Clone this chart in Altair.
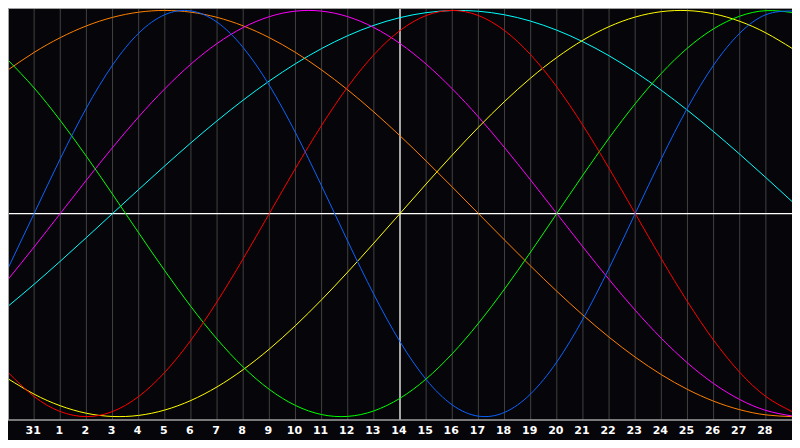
import altair as alt
import pandas as pd

# Day positions across the chart (0 = Jan 30 at the left edge, 30 = Mar 1 at the right edge)
DAYS = [0, 1, 2, 3, 4, 5, 6, 7, 8, 9, 10, 11, 12, 13, 14, 15,
        16, 17, 18, 19, 20, 21, 22, 23, 24, 25, 26, 27, 28, 29, 30]

# Tick positions and their labels (31 Jan, then 1..28 Feb)
TICK_DAYS = [1, 2, 3, 4, 5, 6, 7, 8, 9, 10, 11, 12, 13, 14, 15,
             16, 17, 18, 19, 20, 21, 22, 23, 24, 25, 26, 27, 28, 29]
TICK_LABELS = ["31", "1", "2", "3", "4", "5", "6", "7", "8", "9", "10", "11", "12", "13", "14",
               "15", "16", "17", "18", "19", "20", "21", "22", "23", "24", "25", "26", "27", "28"]

# Curve values, one per day (-1 .. 1)
blue = [-0.2698, 0.0, 0.2698, 0.5196, 0.7308, 0.8879, 0.9791, 0.9977, 0.9423, 0.8170, 0.6311,
        0.3984, 0.1362, -0.1362, -0.3984, -0.6311, -0.8170, -0.9423, -0.9977, -0.9791, -0.8879,
        -0.7308, -0.5196, -0.2698, 0.0, 0.2698, 0.5196, 0.7308, 0.8879, 0.9791, 0.9977]
red = [-0.7818, -0.9010, -0.9749, -1.0, -0.9749, -0.9010, -0.7818, -0.6235, -0.4339, -0.2225, 0.0,
       0.2225, 0.4339, 0.6235, 0.7818, 0.9010, 0.9749, 1.0, 0.9749, 0.9010, 0.7818,
       0.6235, 0.4339, 0.2225, 0.0, -0.2225, -0.4339, -0.6235, -0.7818, -0.9010, -0.9749]
green = [0.7557, 0.6182, 0.4582, 0.2817, 0.0951, -0.0951, -0.2817, -0.4582, -0.6182, -0.7557, -0.8660,
         -0.9450, -0.9898, -0.9989, -0.9718, -0.9096, -0.8146, -0.6901, -0.5406, -0.3717, -0.1893,
         0.0, 0.1893, 0.3717, 0.5406, 0.6901, 0.8146, 0.9096, 0.9718, 0.9989, 0.9898]
yellow = [-0.8134, -0.8894, -0.9465, -0.9834, -0.9993, -0.9940, -0.9675, -0.9204, -0.8535, -0.7684, -0.6672,
          -0.5517, -0.4245, -0.2881, -0.1456, 0.0, 0.1456, 0.2881, 0.4245, 0.5517, 0.6672,
          0.7684, 0.8535, 0.9204, 0.9675, 0.9940, 0.9993, 0.9834, 0.9465, 0.8894, 0.8134]
orange = [0.7071, 0.7934, 0.8660, 0.9239, 0.9659, 0.9914, 1.0, 0.9914, 0.9659, 0.9239, 0.8660,
          0.7934, 0.7071, 0.6088, 0.5, 0.3827, 0.2588, 0.1305, 0.0, -0.1305, -0.2588,
          -0.3827, -0.5, -0.6088, -0.7071, -0.7934, -0.8660, -0.9239, -0.9659, -0.9914, -1.0]
magenta = [-0.3247, -0.1646, 0.0, 0.1646, 0.3247, 0.4759, 0.6142, 0.7357, 0.8372, 0.9158, 0.9694,
           0.9966, 0.9966, 0.9694, 0.9158, 0.8372, 0.7357, 0.6142, 0.4759, 0.3247, 0.1646,
           0.0, -0.1646, -0.3247, -0.4759, -0.6142, -0.7357, -0.8372, -0.9158, -0.9694, -0.9966]
cyan = [-0.4566, -0.3482, -0.2348, -0.1183, 0.0, 0.1183, 0.2348, 0.3482, 0.4566, 0.5586, 0.6527,
        0.7377, 0.8124, 0.8757, 0.9267, 0.9647, 0.9890, 0.9996, 0.9961, 0.9786, 0.9473,
        0.9028, 0.8457, 0.7768, 0.6970, 0.6068, 0.5085, 0.4031, 0.2920, 0.1769, 0.0593]

SERIES = ["cyan", "orange", "magenta", "yellow", "green", "red", "blue"]
SERIES_VALUES = [cyan, orange, magenta, yellow, green, red, blue]
COLORS = ["#00ffff", "#ff8000", "#ff00ff", "#ffff00", "#00ff00", "#ff0000", "#0a64ff"]

rows = []
for name, vals in zip(SERIES, SERIES_VALUES):
    for d, v in zip(DAYS, vals):
        rows.append({"day": d, "value": v, "cycle": name})
df = pd.DataFrame(rows)

ticks = pd.DataFrame({"day": TICK_DAYS, "label": TICK_LABELS})

W, H = 784, 412
xs = alt.Scale(domain=[0, 30], nice=False, zero=False)
ys = alt.Scale(domain=[-1.0166, 1.012], nice=False, zero=False)

grid = alt.Chart(ticks).mark_rule(color="#404040", strokeWidth=1).encode(
    x=alt.X("day:Q", scale=xs, axis=None)
)
hzero = alt.Chart(ticks).mark_rule(color="#ffffff", strokeWidth=1.2).encode(
    y=alt.Y("v:Q", scale=ys, axis=None)
).transform_calculate(v="0").transform_filter("datum.day == 1")
vmid = alt.Chart(ticks).mark_rule(color="#ffffff", strokeWidth=1.2).encode(
    x=alt.X("day:Q", scale=xs, axis=None)
).transform_filter("datum.day == 15")

frame_left = alt.Chart(ticks).mark_rule(color="#a0a0a0", strokeWidth=2).encode(
    x=alt.value(0), y=alt.value(0), y2=alt.value(H)
).transform_filter("datum.day == 1")
frame_top = alt.Chart(ticks).mark_rule(color="#a0a0a0", strokeWidth=2).encode(
    y=alt.value(0), x=alt.value(0), x2=alt.value(W)
).transform_filter("datum.day == 1")
frame_bottom = alt.Chart(ticks).mark_rule(color="#a0a0a0", strokeWidth=1.5).encode(
    y=alt.value(H), x=alt.value(0), x2=alt.value(W)
).transform_filter("datum.day == 1")

lines = alt.Chart(df).mark_line(strokeWidth=1, interpolate="natural", clip=True).encode(
    x=alt.X("day:Q", scale=xs, axis=None),
    y=alt.Y("value:Q", scale=ys, axis=None),
    color=alt.Color("cycle:N", scale=alt.Scale(domain=SERIES, range=COLORS), legend=None),
    detail="cycle:N",
)

labels = alt.Chart(ticks).mark_text(
    color="#ffffff", font="DejaVu Sans", fontSize=11, fontWeight="bold",
    align="center", baseline="middle", dx=-1
).encode(
    x=alt.X("day:Q", scale=xs, axis=None),
    y=alt.value(H + 11),
    text="label:N",
)

chart = alt.layer(grid, hzero, vmid, lines, frame_left, frame_top, frame_bottom, labels).properties(
    width=W,
    height=H,
    autosize=alt.AutoSizeParams(type="none"),
    padding={"left": 0, "top": 0, "right": 0, "bottom": 20},
    background="#060509",
).configure_view(stroke=None)

chart.save("out.html", embed_options={"renderer": "svg", "actions": False})
